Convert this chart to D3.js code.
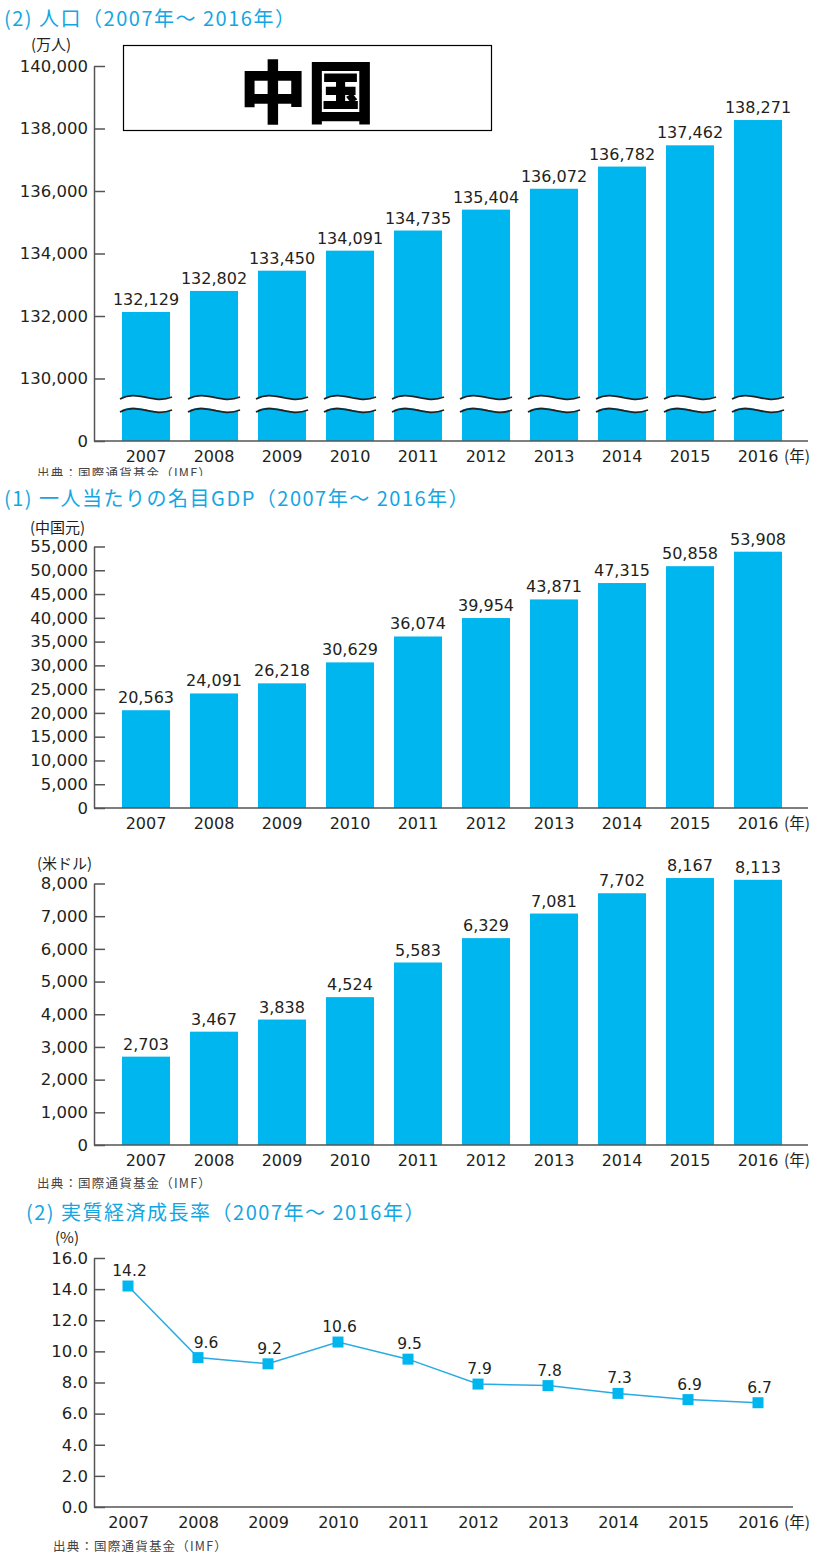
<!DOCTYPE html>
<html>
<head>
<meta charset="utf-8">
<script src="https://cdn.jsdelivr.net/npm/d3@7"></script>
<style>
  body { margin: 0; background: #fff; }
  text { font-family: "Noto Sans CJK JP", "Noto Sans", sans-serif; }
  .num { font-family: "DejaVu Sans", "Noto Sans", sans-serif; }
</style>
</head>
<body>
<svg id="chart" width="819" height="1555"></svg>
<script>
const years = ["2007", "2008", "2009", "2010", "2011", "2012", "2013", "2014", "2015", "2016"];
const population = [132129, 132802, 133450, 134091, 134735, 135404, 136072, 136782, 137462, 138271];
const gdpYuan = [20563, 24091, 26218, 30629, 36074, 39954, 43871, 47315, 50858, 53908];
const gdpUsd = [2703, 3467, 3838, 4524, 5583, 6329, 7081, 7702, 8167, 8113];
const growth = [14.2, 9.6, 9.2, 10.6, 9.5, 7.9, 7.8, 7.3, 6.9, 6.7];

const popTicks = [128000, 130000, 132000, 134000, 136000, 138000, 140000];
const yuanTicks = d3.range(0, 55001, 5000);
const usdTicks = d3.range(0, 8001, 1000);
const growthTicks = d3.range(0, 16.01, 2);

const blue = "#00b6ef";
const titleBlue = "#13a6e2";
const ink = "#231f20";
const axisGray = "#555";

const svg = d3.select("#chart");
const fmt = d3.format(",");

const x = d3.scaleBand().domain(years).range([112, 792]).paddingInner(0.294).paddingOuter(0.147);

function label(txt, xx, yy, size, color, anchor) {
  return svg.append("text")
    .attr("x", xx).attr("y", yy)
    .attr("font-size", size)
    .attr("fill", color || ink)
    .attr("text-anchor", anchor || "start")
    .text(txt);
}

function title(txt, xx, yy) {
  return label(txt, xx, yy, 20, titleBlue).attr("letter-spacing", 1.5);
}

function source(xx, yy) {
  return label("出典：国際通貨基金（IMF）", xx, yy, 12.5, "#444").attr("letter-spacing", 1.2);
}

function yAxis(y, ticks, format) {
  const g = svg.append("g")
    .attr("transform", "translate(94,0)")
    .call(d3.axisLeft(y).tickValues(ticks).tickFormat(format).tickSizeInner(-11).tickSizeOuter(0).tickPadding(6));
  g.select(".domain").attr("stroke", axisGray).attr("stroke-width", 1.5);
  g.selectAll(".tick line").attr("stroke", axisGray).attr("stroke-width", 1.5);
  g.selectAll(".tick text").attr("class", "num").attr("font-size", 16.5).attr("fill", ink);
  return g;
}

function xAxis(xs, y0, x1, labelY) {
  svg.append("line").attr("x1", 94).attr("x2", x1).attr("y1", y0).attr("y2", y0)
    .attr("stroke", axisGray).attr("stroke-width", 1.5);
  const g = svg.append("g")
    .attr("transform", `translate(0,${labelY})`)
    .call(d3.axisBottom(xs).tickSize(0).tickPadding(0));
  g.select(".domain").remove();
  g.selectAll(".tick text").attr("class", "num").attr("font-size", 16).attr("fill", ink).attr("dy", 0);
  label("(年)", 784, labelY, 15.5, ink);
}

function bars(values, y, y0) {
  svg.append("g").selectAll("rect")
    .data(values).join("rect")
    .attr("x", (d, i) => x(years[i]))
    .attr("width", x.bandwidth())
    .attr("y", d => y(d))
    .attr("height", d => y0 - y(d))
    .attr("fill", blue);
  svg.append("g").selectAll("text")
    .data(values).join("text")
    .attr("class", "num")
    .attr("x", (d, i) => x(years[i]) + x.bandwidth() / 2)
    .attr("y", d => y(d) - 7)
    .attr("text-anchor", "middle")
    .attr("font-size", 16)
    .attr("fill", ink)
    .text(d => fmt(d));
}

// ---- (2) population ----
title("(2)  人口（2007年～ 2016年）", 4, 26);
label("(万人)", 31, 50, 15, ink);

svg.append("rect").attr("x", 123.5).attr("y", 45.5).attr("width", 368).attr("height", 85)
  .attr("fill", "none").attr("stroke", "#000").attr("stroke-width", 1.2);
svg.append("text").attr("x", 307).attr("y", 88)
  .attr("text-anchor", "middle").attr("dominant-baseline", "central")
  .attr("font-size", 68).attr("font-weight", 900).attr("fill", "#000")
  .text("中国");

const yPop = d3.scaleLinear().domain([128000, 140000]).range([441, 66]);
bars(population, yPop, 441);

// break marks
const wave = (x0, w, yy) => `M${x0},${yy + 1} C${x0 + w * 0.35},${yy - 9} ${x0 + w * 0.62},${yy + 7} ${x0 + w},${yy - 1}`;
const brk = svg.append("g");
years.forEach(yr => {
  const x0 = x(yr) - 2, w = x.bandwidth() + 4;
  brk.append("path")
    .attr("d", wave(x0, w, 398) + ` L${x0 + w},${410} C${x0 + w * 0.62},${417} ${x0 + w * 0.35},${401} ${x0},${411} Z`)
    .attr("fill", "#fff");
  brk.append("path").attr("d", wave(x0, w, 398)).attr("fill", "none").attr("stroke", "#222").attr("stroke-width", 1.8);
  brk.append("path").attr("d", wave(x0, w, 411)).attr("fill", "none").attr("stroke", "#222").attr("stroke-width", 1.8);
});

yAxis(yPop, popTicks, d => d === 128000 ? "0" : fmt(d));
xAxis(x, 441, 808, 462);

// source line is cut off under the next heading, as in the original
svg.append("clipPath").attr("id", "cut").append("rect").attr("x", 0).attr("y", 465).attr("width", 819).attr("height", 11);
source(37, 478).attr("clip-path", "url(#cut)");

// ---- (1) GDP per capita ----
title("(1)  一人当たりの名目GDP（2007年～ 2016年）", 4, 506);
label("(中国元)", 30, 533, 15, ink);

const yYuan = d3.scaleLinear().domain([0, 55000]).range([808, 546.5]);
bars(gdpYuan, yYuan, 808);
yAxis(yYuan, yuanTicks, fmt);
xAxis(x, 808, 808, 829);

label("(米ドル)", 37, 869, 15, ink);
const yUsd = d3.scaleLinear().domain([0, 8000]).range([1145, 883.5]);
bars(gdpUsd, yUsd, 1145);
yAxis(yUsd, usdTicks, fmt);
xAxis(x, 1145, 808, 1166);
source(37, 1188);

// ---- (2) real growth ----
title("(2)  実質経済成長率（2007年～ 2016年）", 26, 1220);
label("(%)", 55, 1243, 15, ink);

const xp = d3.scalePoint().domain(years).range([128, 758]);
const yG = d3.scaleLinear().domain([0, 16]).range([1507, 1258]);

svg.append("path")
  .datum(growth)
  .attr("d", d3.line().x((d, i) => xp(years[i])).y(d => yG(d)))
  .attr("fill", "none").attr("stroke", "#2aaae4").attr("stroke-width", 1.5);

svg.append("g").selectAll("rect")
  .data(growth).join("rect")
  .attr("x", (d, i) => xp(years[i]) - 5.5)
  .attr("y", d => yG(d) - 5.5)
  .attr("width", 11).attr("height", 11)
  .attr("fill", blue);

svg.append("g").selectAll("text")
  .data(growth).join("text")
  .attr("class", "num")
  .attr("x", (d, i) => xp(years[i]) + (i === 1 ? 8 : 1.5))
  .attr("y", d => yG(d) - 10)
  .attr("text-anchor", "middle")
  .attr("font-size", 15.5)
  .attr("fill", ink)
  .text(d => d.toFixed(1));

yAxis(yG, growthTicks, d3.format(".1f"));
xAxis(xp, 1507, 793, 1528);
source(53, 1551);
</script>
</body>
</html>
